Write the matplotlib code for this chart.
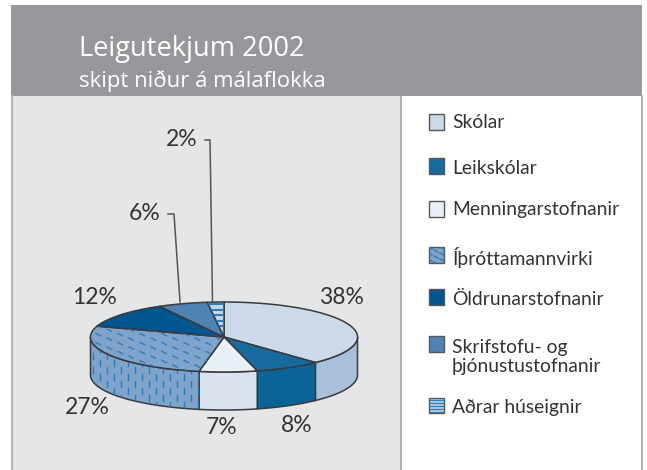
import numpy as np
import matplotlib
matplotlib.use('Agg')
import matplotlib.pyplot as plt
from matplotlib.patches import Polygon, Rectangle

# gogn
flokkar = ['Skólar', 'Leikskólar', 'Menningarstofnanir', 'Íþróttamannvirki',
           'Öldrunarstofnanir', 'Skrifstofu- og\nþjónustustofnanir', 'Aðrar húseignir']
gildi = [38, 8, 7, 27, 12, 6, 2]
efri_litir = ['#CBD9E9', '#176B9F', '#EAF0F8', '#7FA3CB', '#02568F', '#4E83B4', '#C5D7E8']
hlid_litir = ['#A9C0DB', '#0B6498', '#DAE2EF', '#7FA3CB', '#02568F', '#4E83B4', '#C5D7E8']
titill = 'Leigutekjum 2002'
undirtitill = 'skipt niður á málaflokka'

# kokan i pixlum
cx, cy, rx, ry, dypt = 224, 337, 133.5, 35, 38
legend_y = [123, 168, 210, 257, 299, 357, 407]
merki_y = [122, 166, 209, 255, 297, 344, 405.5]
merki_xy = [(341, 297), (297, 425), (222, 427), (87, 407), (95, 297), (145, 213), (182, 140)]
lina = '#3A3A3C'
texti = '#333336'
mjor = ['Lato', 'DejaVu Sans']

plt.rcParams['font.family'] = ['Open Sans', 'DejaVu Sans']

fig = plt.figure(figsize=(6.47, 4.70), dpi=100)
ax = fig.add_axes([0, 0, 1, 1])
ax.set_xlim(0, 647)
ax.set_ylim(470, 0)
ax.axis('off')

# bakgrunnur og haus
ax.add_patch(Rectangle((11, 96), 390, 374, fc='#E5E6E8', ec='none', zorder=0))
ax.add_patch(Rectangle((11, 5), 631, 91, fc='#97989C', ec='none', zorder=1))
ax.plot([12, 12], [96, 470], color='#B5B6BA', lw=1.5, zorder=1)
ax.plot([401, 401], [96, 470], color='#A9AAAE', lw=1.3, zorder=1)
ax.plot([641.5, 641.5], [96, 470], color='#A9AAAE', lw=1.3, zorder=1)
ax.text(79, 56, titill, color='white', fontsize=19.6, va='baseline', zorder=2)
ax.text(79, 87, undirtitill, color='white', fontsize=15.9, va='baseline', zorder=2)


def punktur(horn):
    return cx + rx * np.sin(horn), cy - ry * np.cos(horn)


def bogi(a, b):
    t = np.linspace(a, b, 80)
    return np.column_stack(punktur(t))


def strik_inni(patch, x0, y0, x1, y1, dx, dy, v, litur, lw=1.0):
    # stutt strik i reglulegu mynstri, klippt vid flotinn
    for i, x in enumerate(np.arange(x0, x1, dx)):
        for y in np.arange(y0 + (i % 2) * dy / 2, y1, dy):
            l, = ax.plot([x, x + v[0]], [y, y + v[1]], color=litur, lw=lw, zorder=patch.get_zorder() + 0.1)
            l.set_clip_path(patch)


brot = np.cumsum([0] + gildi) / sum(gildi) * 2 * np.pi

# hlidar
for i in range(len(gildi)):
    a, b = brot[i], brot[i + 1]
    a2, b2 = max(a, np.pi / 2), min(b, 3 * np.pi / 2)
    if a2 >= b2:
        continue
    efri = bogi(a2, b2)
    nedri = efri[::-1] + [0, dypt]
    p = Polygon(np.vstack([efri, nedri]), fc=hlid_litir[i], ec=lina, lw=1.1, joinstyle='round', zorder=3)
    ax.add_patch(p)
    if i == 3:
        strik_inni(p, 93, 325, 200, 420, 7, 14, (0, 6), '#2B7FB8')

# toppflotur
for i in range(len(gildi)):
    a, b = brot[i], brot[i + 1]
    p = Polygon(np.vstack([[cx, cy], bogi(a, b)]), fc=efri_litir[i], ec=lina, lw=1.1, joinstyle='round', zorder=4)
    ax.add_patch(p)
    if i == 3:
        strik_inni(p, 85, 320, 225, 375, 11, 9, (4.5, 2.2), '#2B7FB8')
    if i == 6:
        for y in np.arange(304, 338, 5.5):
            l, = ax.plot([200, 230], [y, y], color='#2B7FB8', lw=1.5, zorder=4.1)
            l.set_clip_path(p)

# prosentur
for g, (x, y) in zip(gildi, merki_xy):
    ax.text(x, y, f'{g}%', color=texti, fontsize=16.5, ha='center', va='center', family=mjor, zorder=6)

# leidarar
ax.plot([205, 210, 212.5], [140, 140, 302], color='#555558', lw=1.1, zorder=2)
ax.plot([168, 174, 180], [214, 214, 302], color='#555558', lw=1.1, zorder=2)

# skyringar
for nafn, ly, my, litur, nr in zip(flokkar, legend_y, merki_y, efri_litir, range(7)):
    r = Rectangle((428.5, my - 8), 15.5, 15.5, fc=litur, ec='#55565A', lw=1, zorder=3)
    ax.add_patch(r)
    if nr == 3:
        strik_inni(r, 428, my - 8, 445, my + 8, 6, 6, (4, 2), '#2B7FB8')
    if nr == 6:
        for y in np.arange(my - 6, my + 7, 3):
            ax.plot([430, 443], [y, y], color='#2B7FB8', lw=1, zorder=3.1)
    ax.text(452 if nr != 3 else 453, ly, nafn, color=texti, fontsize=13.9, va='center',
            family=mjor, linespacing=1.15, zorder=3)

fig.savefig('out.png', dpi=100)
